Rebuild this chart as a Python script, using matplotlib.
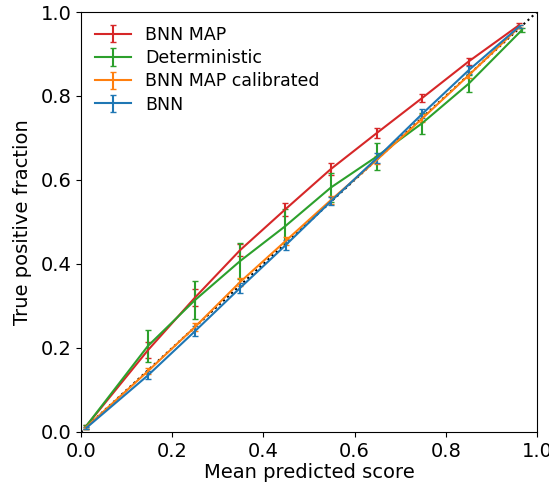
import matplotlib
matplotlib.use("Agg")
import matplotlib.pyplot as plt

# mean predicted score / true positive fraction / error for each model
bnn_map_x = [0.01, 0.147, 0.25, 0.349, 0.448, 0.548, 0.649, 0.748, 0.850, 0.960]
bnn_map_y = [0.012, 0.195, 0.32, 0.433, 0.53, 0.626, 0.712, 0.795, 0.882, 0.968]
bnn_map_err = [0.004, 0.02, 0.02, 0.015, 0.015, 0.015, 0.012, 0.01, 0.008, 0.005]

det_x = [0.01, 0.147, 0.25, 0.349, 0.448, 0.548, 0.649, 0.748, 0.850, 0.967]
det_y = [0.012, 0.205, 0.314, 0.407, 0.49, 0.582, 0.656, 0.735, 0.829, 0.957]
det_err = [0.004, 0.038, 0.045, 0.042, 0.04, 0.035, 0.032, 0.025, 0.02, 0.005]

cal_x = [0.01, 0.147, 0.25, 0.349, 0.449, 0.549, 0.649, 0.749, 0.851, 0.962]
cal_y = [0.01, 0.145, 0.25, 0.357, 0.455, 0.553, 0.648, 0.747, 0.85, 0.965]
cal_err = [0.003, 0.008, 0.01, 0.01, 0.01, 0.01, 0.01, 0.01, 0.008, 0.004]

bnn_x = [0.012, 0.147, 0.25, 0.349, 0.449, 0.549, 0.649, 0.749, 0.851, 0.962]
bnn_y = [0.01, 0.135, 0.24, 0.343, 0.445, 0.55, 0.652, 0.758, 0.862, 0.966]
bnn_err = [0.003, 0.01, 0.012, 0.012, 0.012, 0.01, 0.012, 0.01, 0.01, 0.004]

fig = plt.figure(figsize=(5.49, 4.88), dpi=100)
ax = fig.add_axes([0.1475, 0.1148, 0.8305, 0.8606])

ax.plot([0, 1], [0, 1], ':', color='black', lw=1.5)
ax.errorbar(bnn_map_x, bnn_map_y, yerr=bnn_map_err, color='C3', capsize=2.5, lw=1.5, label='BNN MAP')
ax.errorbar(det_x, det_y, yerr=det_err, color='C2', capsize=2.5, lw=1.5, label='Deterministic')
ax.errorbar(cal_x, cal_y, yerr=cal_err, color='C1', capsize=2.5, lw=1.5, label='BNN MAP calibrated')
ax.errorbar(bnn_x, bnn_y, yerr=bnn_err, color='C0', capsize=2.5, lw=1.5, label='BNN')

ax.set_xlim(0, 1)
ax.set_ylim(0, 1)
ax.set_xlabel('Mean predicted score', fontsize=14, labelpad=2)
ax.set_ylabel('True positive fraction', fontsize=14, labelpad=6)
ax.tick_params(labelsize=14)
ax.legend(loc='upper left', frameon=False, fontsize=12.5, labelspacing=0.3,
          handlelength=2.1, handletextpad=0.8, borderaxespad=0.4)

fig.savefig('out.png', dpi=100)
